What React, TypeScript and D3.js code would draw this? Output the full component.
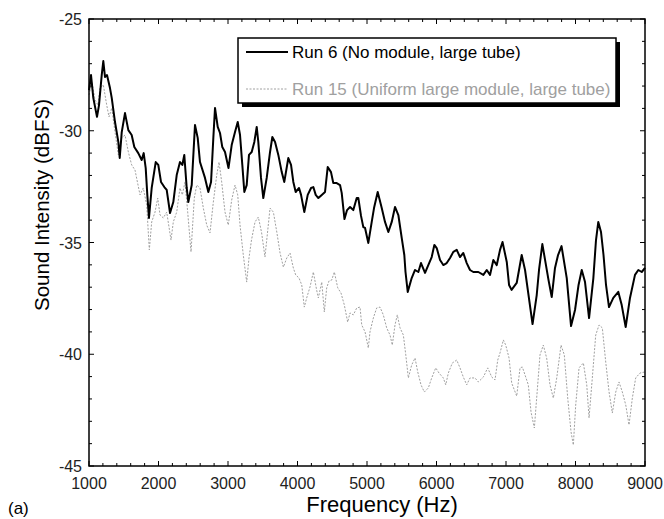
import React from 'react';
import * as d3 from 'd3';

// Run 6 (no module, large tube)
const run6Freq = [1000, 1029, 1062, 1115, 1144, 1183, 1206, 1230, 1259, 1302, 1327, 1374, 1422, 1442, 1471, 1518, 1566, 1614, 1652, 1709, 1758, 1787, 1816, 1839, 1863, 1902, 1960, 1997, 2036, 2084, 2118, 2166, 2213, 2262, 2309, 2343, 2371, 2406, 2429, 2478, 2525, 2564, 2597, 2669, 2717, 2756, 2789, 2813, 2852, 2885, 2918, 2957, 3007, 3053, 3101, 3140, 3173, 3206, 3235, 3269, 3302, 3341, 3379, 3413, 3436, 3475, 3508, 3557, 3605, 3638, 3677, 3724, 3773, 3810, 3868, 3907, 3940, 3974, 4022, 4051, 4098, 4147, 4195, 4228, 4262, 4300, 4349, 4396, 4435, 4482, 4515, 4564, 4612, 4636, 4676, 4713, 4756, 4803, 4852, 4875, 4914, 4947, 4972, 5019, 5068, 5101, 5154, 5212, 5259, 5307, 5356, 5403, 5451, 5500, 5537, 5554, 5586, 5643, 5691, 5739, 5777, 5835, 5882, 5931, 5969, 6003, 6051, 6098, 6147, 6195, 6242, 6291, 6338, 6386, 6435, 6482, 6530, 6602, 6674, 6723, 6770, 6818, 6867, 6914, 6950, 7011, 7044, 7080, 7154, 7226, 7274, 7382, 7442, 7475, 7523, 7562, 7612, 7658, 7705, 7749, 7799, 7874, 7936, 7993, 8044, 8090, 8137, 8195, 8257, 8295, 8328, 8367, 8403, 8439, 8482, 8544, 8616, 8665, 8722, 8784, 8856, 8904, 8953, 9000];
const run6Db = [-28.18, -27.51, -28.53, -29.38, -28.85, -27.51, -26.88, -27.59, -27.51, -28.09, -28.53, -29.61, -30.5, -31.22, -30.06, -29.21, -29.97, -30.19, -30.73, -31.0, -31.31, -31.0, -31.67, -32.87, -33.9, -32.56, -31.4, -31.53, -32.29, -32.52, -32.65, -33.68, -33.19, -31.98, -31.4, -31.53, -31.08, -32.56, -33.19, -32.43, -29.74, -30.32, -31.4, -32.11, -32.74, -32.29, -30.32, -28.98, -29.83, -30.1, -30.73, -30.95, -31.67, -30.64, -30.06, -29.61, -30.19, -31.53, -32.74, -32.43, -31.08, -30.95, -30.5, -29.83, -30.5, -32.11, -33.01, -32.11, -30.95, -30.28, -30.5, -31.08, -31.85, -32.29, -31.22, -31.53, -32.29, -32.74, -32.56, -32.87, -33.64, -32.87, -32.56, -32.52, -32.87, -33.01, -32.87, -32.74, -31.62, -31.85, -32.34, -32.34, -32.43, -32.78, -33.95, -33.55, -33.41, -33.55, -33.01, -33.01, -33.81, -34.31, -34.35, -35.02, -34.08, -33.46, -32.74, -33.46, -34.08, -34.53, -34.08, -33.41, -33.77, -34.8, -35.56, -36.32, -37.21, -36.59, -36.23, -36.32, -35.92, -36.36, -36.01, -35.65, -35.11, -35.25, -35.78, -36.01, -35.92, -35.69, -35.42, -35.33, -35.65, -35.47, -35.92, -36.23, -36.32, -36.32, -36.45, -36.23, -36.45, -35.78, -36.01, -35.33, -34.98, -35.87, -36.9, -37.12, -36.81, -35.56, -36.23, -38.65, -37.35, -36.23, -35.07, -35.78, -36.68, -37.44, -36.14, -35.56, -35.16, -36.59, -38.74, -38.02, -36.9, -36.23, -36.77, -38.38, -36.59, -34.89, -34.08, -34.53, -35.56, -36.9, -37.89, -37.48, -37.21, -37.8, -38.78, -37.48, -36.45, -36.23, -36.32, -36.14];

// Run 15 (uniform large module, large tube)
const run15Freq = [1000, 1043, 1086, 1129, 1158, 1206, 1255, 1288, 1327, 1374, 1422, 1471, 1518, 1566, 1614, 1662, 1734, 1781, 1830, 1868, 1902, 1950, 1989, 2022, 2069, 2118, 2180, 2213, 2262, 2309, 2343, 2381, 2420, 2468, 2515, 2550, 2597, 2645, 2694, 2741, 2789, 2838, 2871, 2909, 2957, 3004, 3053, 3101, 3140, 3173, 3220, 3269, 3302, 3338, 3389, 3436, 3482, 3532, 3605, 3653, 3702, 3749, 3797, 3846, 3893, 3940, 3974, 4022, 4061, 4098, 4132, 4180, 4228, 4275, 4300, 4349, 4386, 4420, 4453, 4492, 4530, 4579, 4626, 4674, 4722, 4756, 4803, 4852, 4900, 4924, 4972, 5019, 5043, 5091, 5139, 5187, 5235, 5283, 5331, 5364, 5403, 5436, 5475, 5523, 5558, 5595, 5643, 5691, 5730, 5777, 5825, 5882, 5931, 5989, 6036, 6098, 6133, 6170, 6228, 6291, 6338, 6386, 6435, 6482, 6554, 6602, 6674, 6737, 6795, 6842, 6881, 6914, 6962, 6996, 7044, 7082, 7154, 7202, 7235, 7274, 7321, 7360, 7408, 7456, 7489, 7537, 7585, 7633, 7681, 7730, 7792, 7839, 7888, 7936, 7969, 8003, 8051, 8113, 8162, 8195, 8242, 8291, 8339, 8386, 8435, 8483, 8530, 8579, 8626, 8674, 8723, 8770, 8818, 8866, 8928, 9000];
const run15Db = [-28.4, -27.82, -28.62, -28.85, -28.09, -27.95, -28.85, -29.38, -28.98, -30.06, -31.08, -30.32, -30.19, -30.95, -31.53, -31.76, -32.87, -32.56, -33.32, -35.33, -34.08, -33.64, -33.01, -33.77, -33.9, -33.64, -34.89, -34.08, -33.64, -32.56, -32.87, -32.29, -33.64, -35.42, -33.01, -32.43, -32.56, -33.46, -34.22, -34.57, -33.19, -31.98, -31.4, -32.29, -33.64, -34.22, -33.1, -32.43, -32.87, -34.22, -35.56, -36.77, -35.69, -34.89, -34.08, -33.86, -34.53, -35.65, -33.46, -33.64, -34.53, -35.47, -36.1, -35.69, -35.47, -36.14, -36.45, -36.59, -36.9, -37.89, -37.48, -36.99, -36.32, -37.12, -37.48, -36.77, -38.11, -37.03, -36.72, -36.68, -36.32, -37.03, -37.26, -37.8, -38.56, -38.15, -38.24, -37.93, -37.89, -38.69, -39.0, -39.72, -39.0, -38.38, -37.93, -37.89, -38.24, -38.82, -39.14, -39.59, -38.69, -38.24, -38.82, -39.14, -40.03, -41.06, -40.48, -40.17, -40.79, -41.37, -41.69, -41.51, -41.06, -40.61, -40.84, -41.06, -41.37, -40.84, -40.39, -40.26, -40.61, -41.02, -41.37, -41.06, -41.06, -41.24, -41.02, -40.61, -41.02, -41.15, -40.26, -39.94, -39.36, -39.59, -40.17, -41.29, -41.87, -40.61, -40.57, -40.93, -41.37, -42.58, -43.3, -41.37, -40.03, -39.59, -40.17, -41.37, -41.96, -41.06, -39.59, -40.03, -41.96, -43.48, -44.06, -42.27, -40.61, -40.39, -41.37, -42.85, -41.06, -39.14, -38.69, -38.82, -40.35, -41.69, -42.63, -41.69, -41.24, -41.69, -42.27, -43.16, -41.96, -41.06, -40.84, -40.79];

const xTicks = [1000, 2000, 3000, 4000, 5000, 6000, 7000, 8000, 9000];
const yTicks = [-25, -30, -35, -40, -45];
const legendLabels = ['Run 6 (No module, large tube)', 'Run 15 (Uniform large module, large tube)'];

const W = 664;
const H = 519;
const left = 89, right = 645, top = 19, bottom = 466;
const FONT = '"Liberation Sans", Arial, sans-serif';
const GRAY = '#a0a0a0';

export default function App() {
  const x = d3.scaleLinear().domain([1000, 9000]).range([left, right]);
  const y = d3.scaleLinear().domain([-45, -25]).range([bottom, top]);

  const line = d3.line<[number, number]>().x(d => x(d[0])).y(d => y(d[1]));
  const run6 = run6Freq.map((f, i) => [f, run6Db[i]] as [number, number]);
  const run15 = run15Freq.map((f, i) => [f, run15Db[i]] as [number, number]);

  const xMinor = d3.range(1000, 9001, 200);
  const yMinor = d3.range(-45, -24, 1);

  return (
    <svg width={W} height={H} style={{ position: 'absolute', left: 0, top: 0, background: '#fff' }} fontFamily={FONT}>
      <rect width={W} height={H} fill="#fff" />

      {/* data */}
      <path d={line(run15) || ''} fill="none" stroke={GRAY} strokeWidth={1} strokeDasharray="2,1.5" />
      <path d={line(run6) || ''} fill="none" stroke="#000" strokeWidth={2} strokeLinejoin="round" />

      {/* frame */}
      <rect x={left} y={top} width={right - left} height={bottom - top} fill="none" stroke="#000" strokeWidth={1.5} />

      {/* ticks on all four sides, pointing in */}
      {xMinor.map(v => {
        const len = v % 1000 === 0 ? 5 : 3;
        return (
          <g key={'x' + v}>
            <line x1={x(v)} x2={x(v)} y1={bottom} y2={bottom - len} stroke="#000" strokeWidth={1} />
            <line x1={x(v)} x2={x(v)} y1={top} y2={top + len} stroke="#000" strokeWidth={1} />
          </g>
        );
      })}
      {yMinor.map(v => {
        const len = v % 5 === 0 ? 5 : 3;
        return (
          <g key={'y' + v}>
            <line x1={left} x2={left + len} y1={y(v)} y2={y(v)} stroke="#000" strokeWidth={1} />
            <line x1={right} x2={right - len} y1={y(v)} y2={y(v)} stroke="#000" strokeWidth={1} />
          </g>
        );
      })}

      {xTicks.map(v => (
        <text key={'xl' + v} x={x(v)} y={489} fontSize={16} textAnchor="middle" fill="#222">{v}</text>
      ))}
      {yTicks.map(v => (
        <text key={'yl' + v} x={82} y={y(v) + 6} fontSize={16} textAnchor="end" fill="#222">{v}</text>
      ))}

      <text x={382} y={512} fontSize={22} textAnchor="middle" fill="#000">Frequency (Hz)</text>
      <text transform="translate(49,205) rotate(-90)" fontSize={20.5} textAnchor="middle" fill="#000">Sound Intensity (dBFS)</text>
      <text x={8} y={514} fontSize={17} fill="#000">(a)</text>

      {/* legend */}
      <rect x={242} y={42} width={378} height={65} fill="#000" />
      <rect x={238} y={38} width={378} height={65} fill="#fff" stroke="#000" strokeWidth={1.5} />
      <line x1={246} x2={288} y1={52} y2={52} stroke="#000" strokeWidth={2} />
      <text x={292} y={58} fontSize={17} fill="#000">{legendLabels[0]}</text>
      <line x1={246} x2={288} y1={89} y2={89} stroke={GRAY} strokeWidth={1} strokeDasharray="2,1.5" />
      <text x={292} y={95} fontSize={17} fill={GRAY}>{legendLabels[1]}</text>
    </svg>
  );
}
